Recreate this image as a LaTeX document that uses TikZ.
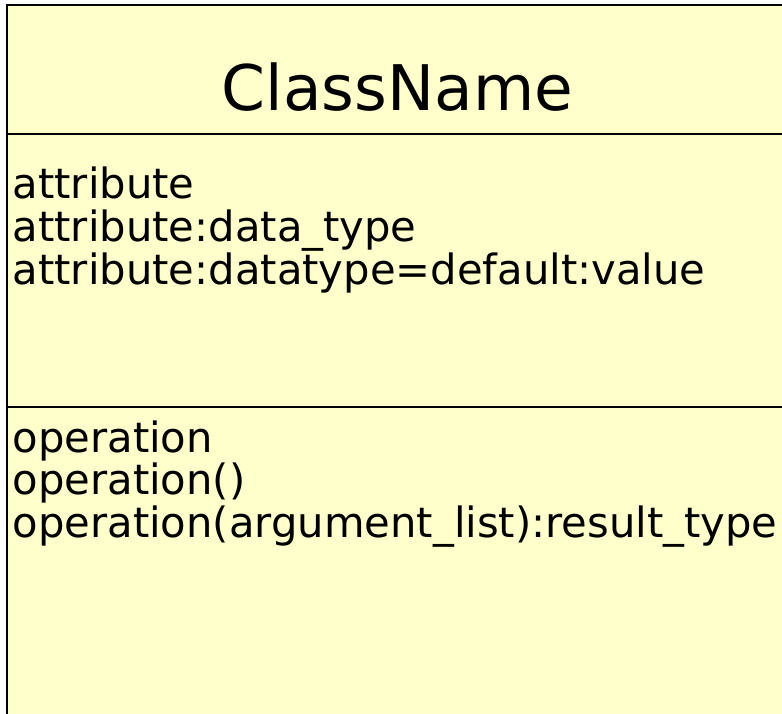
\documentclass[tikz,border=0pt]{standalone}
\usepackage{fontspec}
\setmainfont{DejaVu Sans}
\definecolor{classfill}{RGB}{255,255,204}
\begin{document}
\begin{tikzpicture}[x=1pt,y=-1pt,
  member/.style={anchor=base west,inner sep=0pt,font=\fontsize{41.7}{42.5}\selectfont},
  title/.style={anchor=base,inner sep=0pt,font=\fontsize{62.9}{64}\selectfont},
  border/.style={line width=2pt,draw=black},
  divider/.style={line width=1.3pt,draw=black}]
\useasboundingbox (0,0) rectangle (782,714);
\clip (0,0) rectangle (782,714);
\fill[classfill] (7,5) rectangle (800,730);
\draw[border] (7,730) -- (7,5) -- (800,5);
\draw[divider] (7,134) -- (800,134);
\draw[divider] (7,407) -- (800,407);
\node[title] (name) at (397.5,111) {ClassName};
\node[member] (a1) at (12.5,199) {attribute};
\node[member] (a2) at (12.5,241.5) {attribute:data\_type};
\node[member] (a3) at (12.5,284) {attribute:datatype=default:value};
\node[member] (o1) at (12.5,452) {operation};
\node[member] (o2) at (12.5,494.5) {operation()};
\node[member] (o3) at (12.5,537) {operation(argument\_list):result\_type};
\end{tikzpicture}
\end{document}
